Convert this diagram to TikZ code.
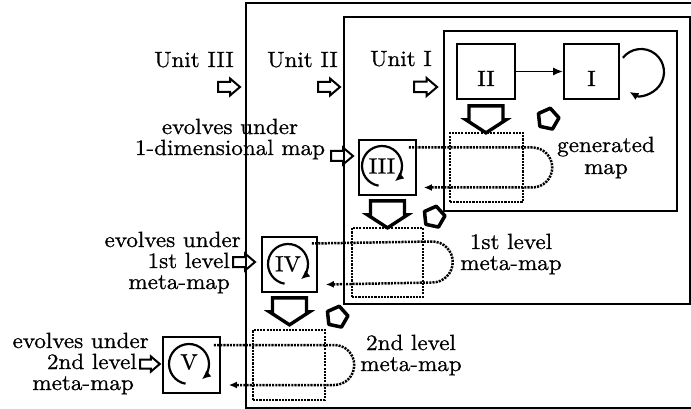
\documentclass[tikz,border=0pt]{standalone}
\usepackage{fontspec}
\setmainfont{lmroman10-regular.otf}[FakeBold=0.8,FakeStretch=1.05]
\usetikzlibrary{arrows.meta,shapes.geometric}
\tikzset{
  unitbox/.style={draw, line width=1.2pt},
  statebox/.style={draw, line width=1.7pt, inner sep=0pt, minimum width=56pt, minimum height=55pt},
  dotbox/.style={draw, line width=2.5pt, dash pattern=on 2.1pt off 1.1pt, inner sep=0pt},
  dotline/.style={line width=2.5pt, dash pattern=on 2.1pt off 1.1pt},
  lbl/.style={inner sep=0pt},
  circarrow/.style={line width=2.2pt, -{Latex[length=9pt,width=8pt]}},
  pentabox/.style={draw, regular polygon, regular polygon sides=5, line width=3.5pt, minimum size=22pt, inner sep=0pt, line join=round},
  smallarrow/.pic={\draw[line width=2pt, line join=miter]
      (0,-5) -- (12,-5) -- (12,-8.5) -- (22,0) -- (12,8.5) -- (12,5) -- (0,5) -- cycle;},
  bigarrow/.pic={\draw[line width=3.4pt, line join=miter]
      (-17,0) -- (17,0) -- (17,14) -- (20,14) -- (0,27) -- (-20,14) -- (-17,14) -- cycle;}
}
\begin{document}
\begin{tikzpicture}[x=1pt, y=-1pt, font=\fontsize{22}{21}\selectfont]
\useasboundingbox (0,0) rectangle (691,409);
\clip (0,0) rectangle (691,409);

% unit frames
\draw[unitbox] (700,3) -- (246,3) -- (246,408) -- (700,408);
\node[unitbox, inner sep=0pt, minimum width=346pt, minimum height=287pt] (unitII) at (517,160.5) {};
\node[unitbox, inner sep=0pt, minimum width=233pt, minimum height=180pt] (unitI) at (560.5,121) {};

\node[lbl, anchor=base east] (u3) at (234,67) {Unit III};
\node[lbl, anchor=base east] (u2) at (338,67) {Unit II};
\node[lbl, anchor=base east] (u1) at (432,66) {Unit I};
\pic at (218,87) {smallarrow};
\pic at (318,87) {smallarrow};
\pic[scale=1.05] at (414,87) {smallarrow};

% unit I content
\node[statebox, minimum width=58pt] (II) at (486,71.5) {};
\node[statebox, minimum width=55pt] (I) at (591.5,71.5) {};
\node[lbl, anchor=base] (IIt) at (486,86) {II};
\node[lbl, anchor=base] (It) at (591.5,86) {I};
\draw[line width=1.8pt, -{Latex[length=10pt,width=8pt]}] (II) -- (I);
\coordinate (lc) at (641,72);
\draw[circarrow] ([shift={(218:23)}]lc) arc[start angle=218, end angle=480, radius=23];

\pic at ([yshift=-6pt]II.south) {bigarrow};
\node[pentabox, rotate=-12] (p1) at (548,119) {};

\node[dotbox, minimum width=73pt, minimum height=69pt] (gen) at (486.5,167.5) {};
\node[lbl, anchor=base, align=center] (gent) at (606,174) {generated\\[1pt]map};

% level III
\node[statebox, minimum width=57pt] (III) at (387.5,167.5) {};
\coordinate (c3) at (382,166);
\node[lbl] (IIIt) at (c3) {III};
\draw[circarrow] ([shift={(100:20)}]c3) arc[start angle=100, end angle=410, radius=20];
\draw[dotline, -{Latex[length=8pt,width=7pt]}] ([shift={(-8,-20)}]III.east) -- ([shift={(8,-20)}]gen.east)
   arc[start angle=-90, end angle=90, radius=20] -- ([shift={(7,20)}]III.east);
\pic at (331,156) {smallarrow};
\node[lbl, anchor=base, align=center] (ev1) at (230,155) {evolves under\\1-dimensional map};

\pic at ([yshift=-5pt]III.south) {bigarrow};
\node[pentabox, rotate=-12] (p2) at (434,217) {};

% 1st level
\node[dotbox, minimum width=71pt, minimum height=69pt] (meta1) at (387.5,262.5) {};
\node[lbl, anchor=base, align=center] (m1t) at (511,270) {1st level\\meta-map};
\node[statebox, minimum width=55pt] (IV) at (289.5,264.5) {};
\coordinate (c4) at (288,264);
\node[lbl] (IVt) at (c4) {IV};
\draw[circarrow] ([shift={(100:20)}]c4) arc[start angle=100, end angle=410, radius=20];
\draw[dotline, -{Latex[length=8pt,width=7pt]}] ([shift={(-6,-21)}]IV.east) -- ([shift={(8,-21)}]meta1.east)
   arc[start angle=-90, end angle=90, radius=20.5] -- ([shift={(8,20)}]IV.east);
\pic at (233,262) {smallarrow};
\node[lbl, anchor=base east] (ev2a) at (241,247) {evolves under};
\node[lbl, anchor=base east] (ev2b) at (230,268) {1st level};
\node[lbl, anchor=base east] (ev2c) at (230,289) {meta-map};

\pic at ([yshift=-5pt]IV.south) {bigarrow};
\node[pentabox, rotate=-12] (p3) at (337,317) {};

% 2nd level
\node[dotbox, minimum width=72pt, minimum height=70pt] (meta2) at (289,365) {};
\node[lbl, anchor=base, align=center] (m2t) at (411,371) {2nd level\\meta-map};
\node[statebox, minimum width=57pt, minimum height=56pt] (V) at (191.5,365) {};
\coordinate (c5) at (189,364);
\node[lbl] (Vt) at ([yshift=2pt]c5) {V};
\draw[circarrow] ([shift={(100:20)}]c5) arc[start angle=100, end angle=410, radius=20];
\draw[dotline, -{Latex[length=8pt,width=7pt]}] ([shift={(-7,-20)}]V.east) -- ([shift={(8,-20)}]meta2.east)
   arc[start angle=-90, end angle=90, radius=20] -- ([shift={(8,20)}]V.east);
\pic[scale=0.9] at (140,364) {smallarrow};
\node[lbl, anchor=base east] (ev3a) at (149,348) {evolves under};
\node[lbl, anchor=base east] (ev3b) at (137,369) {2nd level};
\node[lbl, anchor=base east] (ev3c) at (134,390) {meta-map};
\end{tikzpicture}
\end{document}
